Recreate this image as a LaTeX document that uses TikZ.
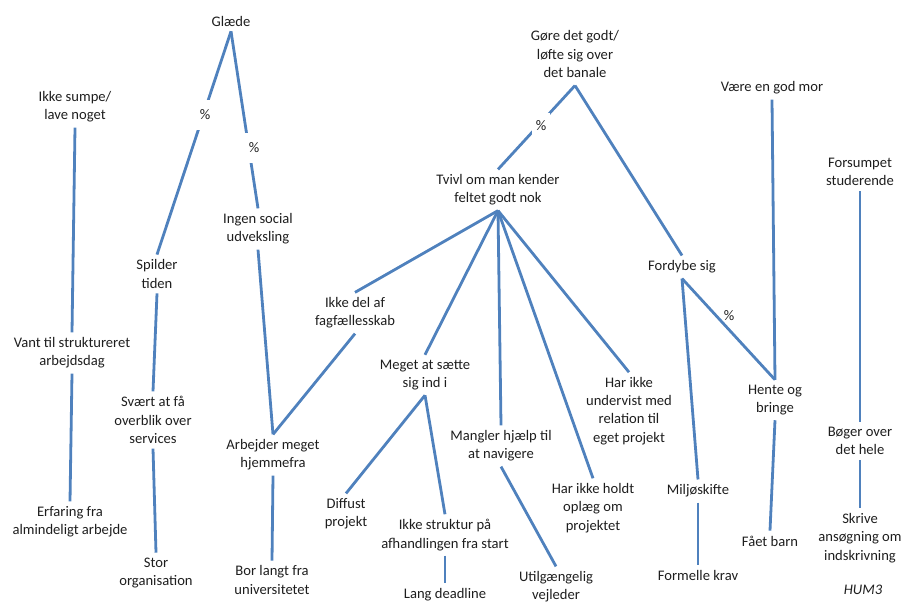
\documentclass[tikz,border=0pt]{standalone}
\usepackage{fontspec}
\setmainfont{Carlito}
\definecolor{linkblue}{RGB}{79,129,189}
\definecolor{txt}{RGB}{30,30,30}
\begin{document}
\begin{tikzpicture}[x=1pt,y=-1pt,
  lbl/.style={align=center,inner sep=5pt,text=txt,font=\fontsize{14.6}{18.2}\selectfont},
  pct/.style={text=txt,font=\fontsize{14.6}{18.2}\selectfont,inner sep=0pt},
  gapped/.style={pct,fill=white,minimum width=18pt,minimum height=30pt},
  link/.style={draw=linkblue,line width=2.8pt}]
\useasboundingbox (0,0) rectangle (905,603);

% column 1
\node[lbl] (sumpe) at (75,107) {Ikke sumpe/\\lave noget};
\node[lbl] (vant) at (72,353) {Vant til struktureret\\arbejdsdag};
\node[lbl] (erfaring) at (70,522) {Erfaring fra\\almindeligt arbejde};

% column 2
\node[lbl] (glaede) at (231,21) {Glæde};
\node[lbl] (spilder) at (157,274) {Spilder\\tiden};
\node[lbl] (svaert) at (153,420) {Svært at få\\overblik over\\services};
\node[lbl] (stor) at (156,573) {Stor\\organisation};
\node[lbl] (ingen) at (258,229) {Ingen social\\udveksling};
\node[lbl] (arbejder) at (273,455) {Arbejder meget\\hjemmefra};
\node[lbl] (bor) at (272,580) {Bor langt fra\\universitetet};

% middle tree
\node[lbl,inner ysep=8pt] (gore) at (575,54) {Gøre det godt/\\løfte sig over\\det banale};
\node[lbl] (tvivl) at (498,190) {Tvivl om man kender\\feltet godt nok};
\node[lbl] (ikkedel) at (355,313) {Ikke del af\\fagfællesskab};
\node[lbl] (meget) at (425,375) {Meget at sætte\\sig ind i};
\node[lbl] (diffust) at (346,514) {Diffust\\projekt};
\node[lbl] (struktur) at (445,535) {Ikke struktur på\\afhandlingen fra start};
\node[lbl] (lang) at (445,595) {Lang deadline};
\node[lbl] (mangler) at (501,446) {Mangler hjælp til\\at navigere};
\node[lbl] (utilg) at (556,587) {Utilgængelig\\vejleder};
\node[lbl] (holdt) at (593,508) {Har ikke holdt\\oplæg om\\projektet};
\node[lbl] (undervist) at (629,411) {Har ikke\\undervist med\\relation til\\eget projekt};

% right side
\node[lbl] (fordybe) at (682,267) {Fordybe sig};
\node[lbl] (miljo) at (698,491) {Miljøskifte};
\node[lbl] (formelle) at (698,575) {Formelle krav};
\node[lbl] (mor) at (772,88) {Være en god mor};
\node[lbl] (hente) at (775,400) {Hente og\\bringe};
\node[lbl] (barn) at (770,541) {Fået barn};
\node[lbl] (forsumpet) at (860,172) {Forsumpet\\studerende};
\node[lbl] (boger) at (860,441) {Bøger over\\det hele};
\node[lbl] (skrive) at (860,538) {Skrive\\ansøgning om\\indskrivning};
\node[lbl,font=\fontsize{14.6}{18.2}\selectfont\itshape] (hum) at (863,590) {HUM3};

% connectors
\draw[link] (sumpe.south) -- (vant.north);
\draw[link] (vant.south) -- (erfaring.north);
\draw[link] (glaede.south) -- (spilder.north);
\draw[link] (glaede.south) -- (ingen.north);
\draw[link] (spilder.south) -- (svaert.north);
\draw[link] (svaert.south) -- (stor.north);
\draw[link] (ingen.south) -- (arbejder.north);
\draw[link] (arbejder.north) -- (ikkedel.south);
\draw[link] (arbejder.south) -- (bor.north);
\draw[link] (tvivl.north) -- (gore.south);
\draw[link] (gore.south) -- (fordybe.north);
\draw[link] (tvivl.south) -- (ikkedel.north);
\draw[link] (tvivl.south) -- (meget.north);
\draw[link] (tvivl.south) -- (mangler.north);
\draw[link] (tvivl.south) -- (holdt.north);
\draw[link] (tvivl.south) -- (undervist.north);
\draw[link] (meget.south) -- (diffust.north);
\draw[link] (meget.south) -- (struktur.north);
\draw[link] (struktur.south) -- (lang.north);
\draw[link] (mangler.south) -- (utilg.north);
\draw[link] (fordybe.south) -- (miljo.north);
\draw[link] (fordybe.south) -- (hente.north);
\draw[link] (miljo.south) -- (formelle.north);
\draw[link] (mor.south) -- (hente.north);
\draw[link] (hente.south) -- (barn.north);
\draw[link] (forsumpet.south) -- (boger.north);
\draw[link] (boger.south) -- (skrive.north);

% percentage marks
\node[gapped] (p1) at (205,115) {\%};
\node[gapped,minimum width=26pt] (p2) at (254,148) {\%};
\node[gapped,minimum height=26pt] (p3) at (541,126) {\%};
\node[pct] (p4) at (729,316) {\%};
\end{tikzpicture}
\end{document}
